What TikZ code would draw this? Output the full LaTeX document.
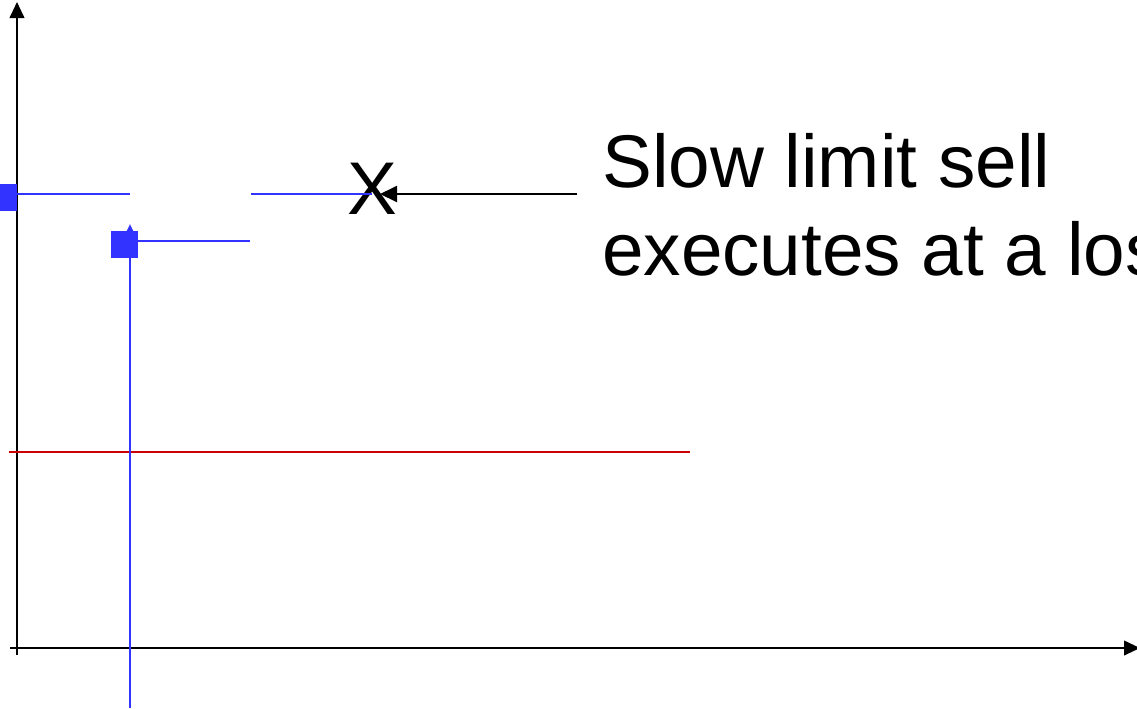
\documentclass[tikz,border=0pt]{standalone}
\usepackage{fontspec}
\setmainfont{Liberation Sans}
\usetikzlibrary{arrows.meta}
\definecolor{ordblue}{HTML}{3333FF}
\definecolor{refred}{HTML}{CC0000}
\tikzset{
  axis/.style={line width=1.4pt, -{Triangle[length=12pt,width=11pt]}},
  bluepath/.style={ordblue, line width=1.5pt},
  order/.style={fill=ordblue, draw=none, minimum width=20.25pt, minimum height=20.25pt, inner sep=0pt},
  lbl/.style={inner sep=0pt, align=left, font=\fontsize{56pt}{66pt}\selectfont},
}
\begin{document}
\begin{tikzpicture}[x=0.75pt, y=-0.75pt]
  \useasboundingbox (0,0) rectangle (1137,708);
  % axes
  \coordinate (yo) at (17,655);
  \coordinate (ytop) at (17,2);
  \coordinate (xo) at (10,648);
  \coordinate (xend) at (1140,648);
  \draw[axis] (yo) -- (ytop);
  \draw[axis] (xo) -- (xend);
  % reference price level
  \coordinate (r1) at (9,452);
  \coordinate (r2) at (690,452);
  \draw[refred, line width=1.4pt] (r1) -- (r2);
  % first order (clipped at the left edge)
  \fill[ordblue] (0,184) rectangle (17,211);
  \coordinate (a1) at (17,194);
  \coordinate (a2) at (130,194);
  \draw[bluepath] (a1) -- (a2);
  % second order with its time line
  \node[order] (o2) at (124.5,244) {};
  \coordinate (tb) at (130,708);
  \coordinate (tt) at (130,224);
  \draw[bluepath, -{Triangle[length=5.25pt,width=4.5pt]}] (tb) -- (tt);
  \coordinate (b2) at (250,241);
  \draw[bluepath] (o2.east |- b2) -- (b2);
  % execution point
  \node[inner sep=0pt, font=\fontsize{56pt}{56pt}\selectfont] (x) at (372,189) {X};
  \coordinate (c1) at (251,194);
  \coordinate (c2) at (372,194);
  \draw[bluepath] (c1) -- (c2);
  % label and pointer
  \node[lbl, anchor=base west] (lab) at (602,275) {Slow limit sell\\executes at a loss};
  \coordinate (p1) at (577,194);
  \coordinate (p2) at (380,194);
  \draw[line width=1.4pt, -{Triangle[length=12.75pt,width=12pt]}] (p1) -- (p2);
\end{tikzpicture}
\end{document}
